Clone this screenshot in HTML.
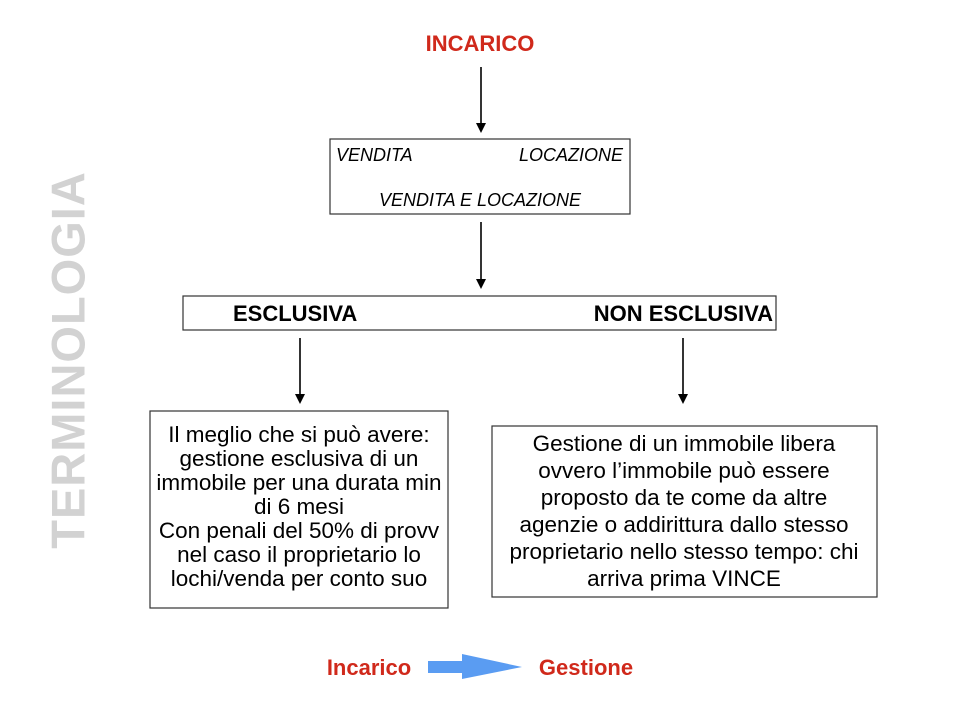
<!DOCTYPE html>
<html><head><meta charset="utf-8"><style>
html,body{margin:0;padding:0;background:#fff;}
svg{display:block;font-family:"Liberation Sans",Arial,sans-serif;}
</style></head><body>
<svg width="960" height="720" viewBox="0 0 960 720" xmlns="http://www.w3.org/2000/svg">
<text x="68" y="360" transform="rotate(-90 68 360)" text-anchor="middle" dominant-baseline="central" font-size="47" font-weight="bold" fill="#d2d2d2" letter-spacing="1">TERMINOLOGIA</text>
<text x="480" y="51" text-anchor="middle" font-size="22" font-weight="bold" fill="#d0291b">INCARICO</text>
<g stroke="#000" stroke-width="1.6">
<line x1="481" y1="67" x2="481" y2="125"/>
<line x1="481" y1="222" x2="481" y2="281"/>
<line x1="300" y1="338" x2="300" y2="396"/>
<line x1="683" y1="338" x2="683" y2="396"/>
</g>
<g fill="#000">
<path d="M476,123 L486,123 L481,133 Z"/>
<path d="M476,279 L486,279 L481,289 Z"/>
<path d="M295,394 L305,394 L300,404 Z"/>
<path d="M678,394 L688,394 L683,404 Z"/>
</g>
<g fill="#fff" stroke="#333" stroke-width="1.2">
<rect x="330" y="139" width="300" height="75"/>
<rect x="183" y="296" width="593" height="34"/>
<rect x="150" y="411" width="298" height="197"/>
<rect x="492" y="426" width="385" height="171"/>
</g>
<g font-size="18" font-style="italic" fill="#000">
<text x="336" y="161">VENDITA</text>
<text x="623" y="161" text-anchor="end">LOCAZIONE</text>
<text x="480" y="206" text-anchor="middle">VENDITA E LOCAZIONE</text>
</g>
<g font-size="22" font-weight="bold" fill="#000">
<text x="233" y="321">ESCLUSIVA</text>
<text x="773" y="321" text-anchor="end">NON ESCLUSIVA</text>
</g>
<g font-size="22.5" fill="#000" text-anchor="middle">
<text x="299" y="442">Il meglio che si può avere:</text>
<text x="299" y="466">gestione esclusiva di un</text>
<text x="299" y="490">immobile per una durata min</text>
<text x="299" y="514">di 6 mesi</text>
<text x="299" y="548" dy="-10">Con penali del 50% di provv</text>
<text x="299" y="562">nel caso il proprietario lo</text>
<text x="299" y="586">lochi/venda per conto suo</text>
<text x="684" y="451">Gestione di un immobile libera</text>
<text x="684" y="478">ovvero l’immobile può essere</text>
<text x="684" y="505">proposto da te come da altre</text>
<text x="684" y="532">agenzie o addirittura dallo stesso</text>
<text x="684" y="559">proprietario nello stesso tempo: chi</text>
<text x="684" y="586">arriva prima VINCE</text>
</g>
<text x="369" y="675" text-anchor="middle" font-size="22" font-weight="bold" fill="#d0291b">Incarico</text>
<text x="586" y="675" text-anchor="middle" font-size="22" font-weight="bold" fill="#d0291b">Gestione</text>
<path d="M428,661 L462,661 L462,654 L522,667 L462,679 L462,673 L428,673 Z" fill="#5a9cf2"/>
</svg>
</body></html>
